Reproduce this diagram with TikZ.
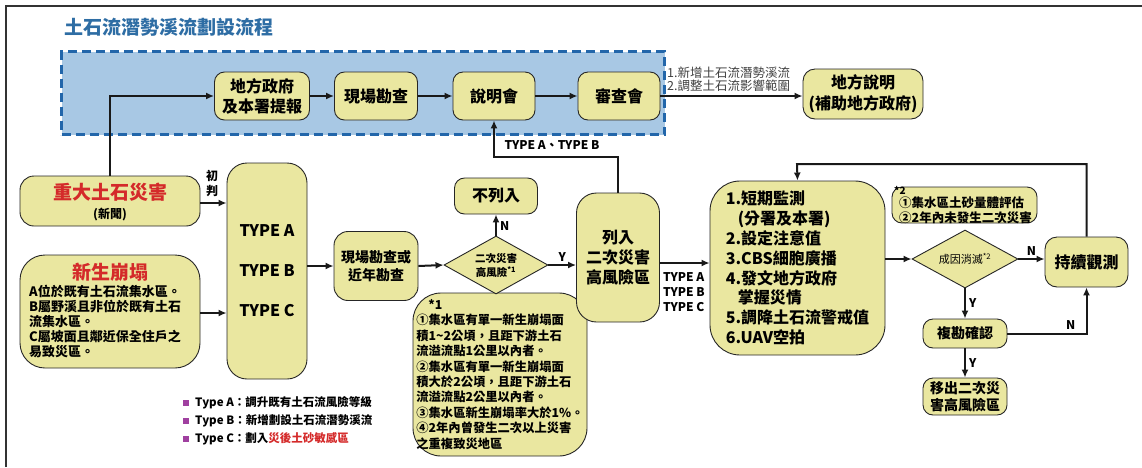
\documentclass[tikz,border=0pt]{standalone}
\usepackage{fontspec}
\setmainfont{Noto Sans CJK TC}
\usetikzlibrary{shapes.geometric,arrows.meta}
\definecolor{boxfill}{HTML}{EAE7A0}
\definecolor{regfill}{HTML}{A8C8E4}
\definecolor{dashblue}{HTML}{2266AA}
\definecolor{titleblue}{HTML}{2E6DA4}
\definecolor{alertred}{HTML}{D42A2A}
\definecolor{legpurple}{HTML}{A040A0}
\definecolor{framegray}{HTML}{333333}
\newcommand\myfs[2]{\fontsize{#1}{#2}\selectfont}
\tikzset{
  box/.style={draw=black!85, line width=0.9pt, fill=boxfill, rounded corners=10pt, align=center, inner sep=0pt, font=\bfseries},
  dia/.style={draw=black!85, line width=0.9pt, fill=boxfill, shape=diamond, aspect=1.8, inner sep=0pt, align=center},
  arr/.style={line width=2pt, -{Latex[length=8pt,width=7pt]}, draw=black!90},
  lbl/.style={font=\bfseries\myfs{12}{15}, inner sep=0pt}
}
\begin{document}
\begin{tikzpicture}[x=1pt,y=-1pt]
\useasboundingbox (0,0) rectangle (1142,467);
\draw[framegray, line width=1.3pt] (6,467) -- (6,6) -- (1142,6);
% title
\node[anchor=west, text=titleblue, font=\bfseries\myfs{19}{22}, inner sep=0pt] (title) at (64,27) {土石流潛勢溪流劃設流程};
% blue region
\node[draw=dashblue, fill=regfill, line width=3pt, dash pattern=on 9pt off 5pt, minimum width=603pt, minimum height=83pt, inner sep=0pt, anchor=north west] (region) at (60,50) {};
% top row
\node[box, minimum width=95pt, minimum height=48pt, font=\bfseries\myfs{16}{20}] (gov) at (262,96) {地方政府\\及本署提報};
\node[box, minimum width=83pt, minimum height=48pt, font=\bfseries\myfs{16}{20}] (site1) at (376,96) {現場勘查};
\node[box, minimum width=82pt, minimum height=48pt, font=\bfseries\myfs{16}{20}] (meet) at (494,96) {說明會};
\node[box, minimum width=82pt, minimum height=48pt, font=\bfseries\myfs{16}{20}] (review) at (619,96) {審查會};
\node[box, minimum width=120pt, minimum height=50pt, rounded corners=12pt, font=\bfseries\myfs{16}{21}] (local) at (863,94) {地方說明\\(補助地方政府)};
% left boxes
\node[box, minimum width=180pt, minimum height=50pt, rounded corners=14pt] (big) at (110,201) {};
\node[text=alertred, font=\bfseries\myfs{19}{22}, inner sep=0pt] (bigt) at (110,192) {重大土石災害};
\node[font=\bfseries\myfs{12}{14}, inner sep=0pt] (bigs) at (110,215) {(新聞)};
\node[box, minimum width=180pt, minimum height=113pt, rounded corners=25pt] (new) at (110,311.5) {};
\node[text=alertred, font=\bfseries\myfs{19}{22}, inner sep=0pt] (newt) at (110,272) {新生崩塌};
\foreach \txt [count=\i] in {A位於既有土石流集水區。,B屬野溪且非位於既有土石,流集水區。,C屬坡面且鄰近保全住戶之,易致災區。}
  \node[anchor=west, font=\bfseries\myfs{13}{15}, inner sep=0pt] (newl\i) at (29,{291+15.2*(\i-1)}) {\txt};
% type box
\node[box, minimum width=80pt, minimum height=216pt, rounded corners=20pt, font=\bfseries\myfs{16}{40}] (type) at (267,271) {TYPE A\\TYPE B\\TYPE C};
% middle
\node[box, minimum width=84pt, minimum height=69pt, rounded corners=14pt, font=\bfseries\myfs{14}{18}] (site2) at (376,266) {現場勘查或\\近年勘查};
\node[box, minimum width=174pt, minimum height=163pt, rounded corners=28pt, align=left, font=\bfseries\myfs{12.3}{15.4}] (note1) at (500,374.5) {\hspace*{12pt}*1\\①集水區有單一新生崩塌面\\積1\textasciitilde2公頃，且距下游土石\\流溢流點1公里以內者。\\②集水區有單一新生崩塌面\\積大於2公頃，且距下游土石\\流溢流點2公里以內者。\\③集水區新生崩塌率大於1\%。\\④2年內曾發生二次以上災害\\之重複致災地區};
\node[dia, minimum width=104pt, minimum height=58pt, font=\bfseries\myfs{10.5}{14}] (risk) at (496,265) {二次災害\\高風險\textsuperscript{*1}};
\node[box, minimum width=83pt, minimum height=36pt, font=\bfseries\myfs{16}{20}] (nolist) at (496,196) {不列入};
\node[box, minimum width=83pt, minimum height=129pt, rounded corners=20pt, font=\bfseries\myfs{16}{20}] (listed) at (618,257.5) {列入\\二次災害\\高風險區};
% monitoring
\node[box, minimum width=175pt, minimum height=174pt, rounded corners=30pt, align=left, font=\bfseries\myfs{16}{19.9}] (monitor) at (797.5,268) {1.短期監測\\\hspace*{12pt}(分署及本署)\\2.設定注意值\\3.CBS細胞廣播\\4.發文地方政府\\\hspace*{12pt}掌握災情\\5.調降土石流警戒值\\6.UAV空拍};
% right
\node[box, minimum width=145pt, minimum height=36pt] (note2) at (964.5,205) {};
\node[anchor=north west, font=\bfseries\myfs{10}{11}, inner sep=0pt] (note2s) at (894,186) {*2};
\node[anchor=west, align=left, font=\bfseries\myfs{12.5}{15}, inner sep=0pt] (note2t) at (899,210) {①集水區土砂量體評估\\②2年內未發生二次災害};
\node[dia, minimum width=106pt, minimum height=58pt, font=\myfs{11}{14}] (cause) at (965,259) {成因消滅\textsuperscript{*2}};
\node[box, minimum width=83pt, minimum height=50pt, rounded corners=12pt, font=\bfseries\myfs{16}{20}] (cont) at (1086.5,262) {持續觀測};
\node[box, minimum width=84pt, minimum height=29pt, font=\bfseries\myfs{14}{17}] (recheck) at (965,333.5) {複勘確認};
\node[box, minimum width=84pt, minimum height=37pt, font=\bfseries\myfs{14}{17}] (remove) at (965,396.5) {移出二次災\\害高風險區};
% connectors
\draw[arr] (big.north) |- (gov.west);
\draw[arr] (gov) -- (site1);
\draw[arr] (site1) -- (meet);
\draw[arr] (meet) -- (review);
\draw[arr] (review.east) -- (review.east -| local.west);
\node[anchor=south west, align=left, text=black!75, font=\myfs{12.5}{13.5}, inner sep=0pt] (toplbl) at (667,92) {1.新增土石流潛勢溪流\\2.調整土石流影響範圍};
\coordinate (tAB) at (494,157);
\draw[arr] (listed.north) |- (tAB) -- (meet.south);
\node[lbl] (tABl) at (552,145) {TYPE A、TYPE B};
\draw[arr] ([yshift=-2pt]big.east) -- ([yshift=-2pt]big.east -| type.west);
\node[lbl, align=center] (chupan) at (212,183) {初\\判};
\draw[arr] ([yshift=-1.5pt]new.east) -- ([yshift=-1.5pt]new.east -| type.west);
\draw[arr] (site2.west -| type.east) -- (site2.west);
\draw[arr] (site2.east) -- (risk.west);
\draw[arr] (risk.north) -- (nolist.south) node[lbl, pos=0.45, right=3pt] {N};
\draw[arr] (risk.east) -- (risk.east -| listed.west) node[lbl, midway, above=3pt] {Y};
\draw[arr] ([yshift=-5.5pt]listed.east) -- ([yshift=-5.5pt]listed.east -| monitor.west);
\node[lbl, anchor=north west, align=left] (tABC) at (663,272) {TYPE A\\TYPE B\\TYPE C};
\draw[arr] (monitor.east |- cause.west) -- (cause.west);
\draw[arr] (cause.east) -- (cause.east -| cont.west) node[lbl, midway, above=3pt] {N};
\coordinate (loop) at (797,164);
\draw[arr] (cont.north) |- (loop) -- (monitor.north);
\draw[arr] (cause.south) -- (recheck.north) node[lbl, midway, right=3pt] {Y};
\draw[arr] (recheck.east) -| (cont.south) node[lbl, pos=0.4, above=3pt] {N};
\draw[arr] (recheck.south) -- (remove.north) node[lbl, midway, right=3pt] {Y};
% legend
\foreach \yy in {403,421,439}{\fill[legpurple] (183,\yy-3) rectangle (189,\yy+3);}
\node[anchor=west, font=\bfseries\myfs{11.5}{13}, inner sep=0pt] (legA) at (195,403) {Type A：調升既有土石流風險等級};
\node[anchor=west, font=\bfseries\myfs{11.5}{13}, inner sep=0pt] (legB) at (195,421) {Type B：新增劃設土石流潛勢溪流};
\node[anchor=west, font=\bfseries\myfs{11.5}{13}, inner sep=0pt] (legC) at (195,439) {Type C：劃入\textcolor{alertred}{災後土砂敏感區}};
\end{tikzpicture}
\end{document}
